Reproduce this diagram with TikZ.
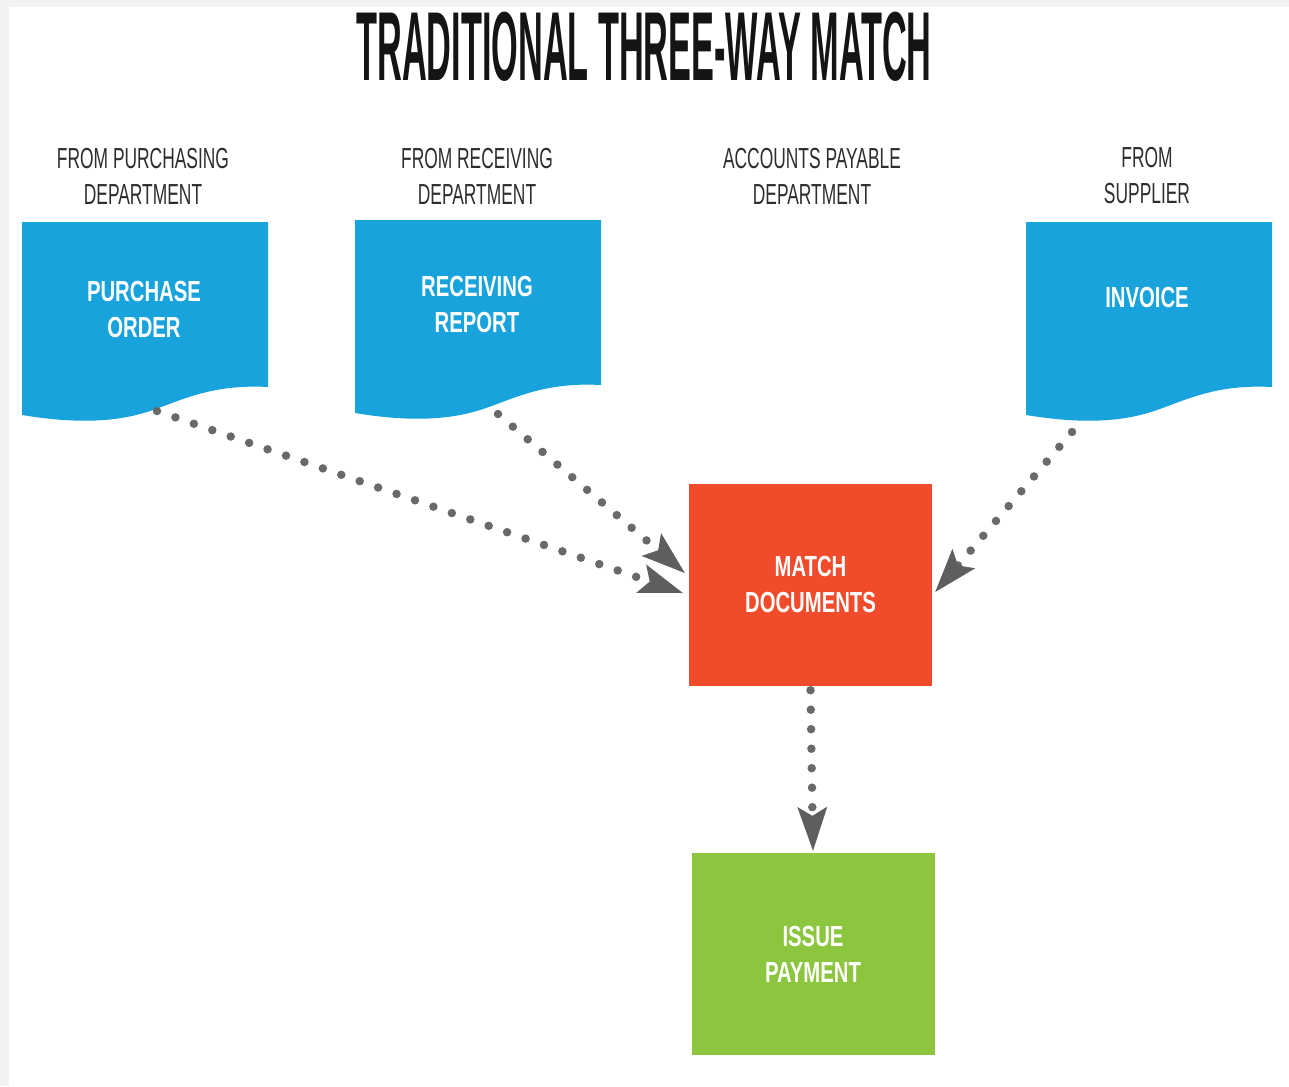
\documentclass[tikz,border=0pt]{standalone}
\usepackage{fontspec}
\usetikzlibrary{arrows.meta}
\newfontfamily\titlefont[FakeStretch=0.35]{Liberation Sans Bold}
\newfontfamily\labfont[FakeStretch=0.6]{Liberation Sans}
\newfontfamily\boxfont[FakeStretch=0.7]{Liberation Sans Bold}
\definecolor{docblue}{HTML}{19A3DD}
\definecolor{matchred}{HTML}{F04B2A}
\definecolor{paygreen}{HTML}{8CC63F}
\definecolor{dotgray}{HTML}{696969}
\definecolor{headgray}{HTML}{5E5E5E}
\definecolor{labgray}{HTML}{2E2E2E}
\definecolor{framegray}{HTML}{F2F2F2}
\tikzset{
  titletext/.style={inner sep=0pt, text=black!92, font=\titlefont\fontsize{98}{100}\selectfont},
  labtext/.style={inner sep=0pt, align=center, text=labgray, font=\labfont\fontsize{29}{36}\selectfont},
  boxtext/.style={inner sep=0pt, align=center, text=white, font=\boxfont\fontsize{29}{36}\selectfont},
  docfill/.style={fill=docblue},
  procbox/.style={inner sep=0pt, minimum width=243pt, minimum height=202pt, align=center, text=white, font=\boxfont\fontsize{29}{36}\selectfont},
  conn/.style={draw=dotgray, line width=8.5pt, line cap=round, dash pattern=on 0pt off 19.5pt,
    -{Stealth[length=44pt,width=30pt,inset=9pt,line width=0pt,color=headgray]}}
}
\newcommand\docshape[2]{%
  \fill[docfill,shift={(#1,#2)}] (0,0) -- (246,0) -- (246,165)
    .. controls (190,162) and (160,178) .. (131,188)
    .. controls (100,199) and (60,203) .. (0,193) -- cycle;}
\begin{document}
\begin{tikzpicture}[x=1pt,y=-1pt]
\useasboundingbox (0,0) rectangle (1289,1086);
\fill[framegray] (0,0) rectangle (1289,1086);
\fill[white] (9,7) rectangle (1289,1086);

% title
\node[titletext] (title) at (644,47) {TRADITIONAL THREE-WAY MATCH};

% department labels
\node[labtext] (lpo) at (143,176) {FROM PURCHASING\\DEPARTMENT};
\node[labtext] (lrr) at (477,176) {FROM RECEIVING\\DEPARTMENT};
\node[labtext] (lap) at (812,176) {ACCOUNTS PAYABLE\\DEPARTMENT};
\node[labtext] (lsu) at (1147,176) {FROM\\SUPPLIER};

% document shapes
\docshape{22}{222}
\docshape{355}{220}
\docshape{1026}{222}
\node[boxtext] (po) at (144,310) {PURCHASE\\ORDER};
\node[boxtext] (rr) at (477,305) {RECEIVING\\REPORT};
\node[boxtext] (inv) at (1147,298) {INVOICE};
\coordinate (poOut) at (157,411);
\coordinate (rrOut) at (498,414);
\coordinate (invOut) at (1072,432);

% process boxes
\node[procbox, fill=matchred] (md) at (810.5,585) {MATCH\\DOCUMENTS};
\node[procbox, fill=paygreen] (ip) at (813,954) {ISSUE\\PAYMENT};

% connectors
\draw[conn] (poOut) -- ([xshift=-6pt,yshift=-8pt]md.west);
\draw[conn] (rrOut) -- ([xshift=-4pt,yshift=12pt]md.west);
\draw[conn] (invOut) -- ([xshift=3pt,yshift=-7pt]md.east);
\draw[conn] ([yshift=-4pt]md.south) -- ([yshift=2pt]ip.north);
\end{tikzpicture}
\end{document}
